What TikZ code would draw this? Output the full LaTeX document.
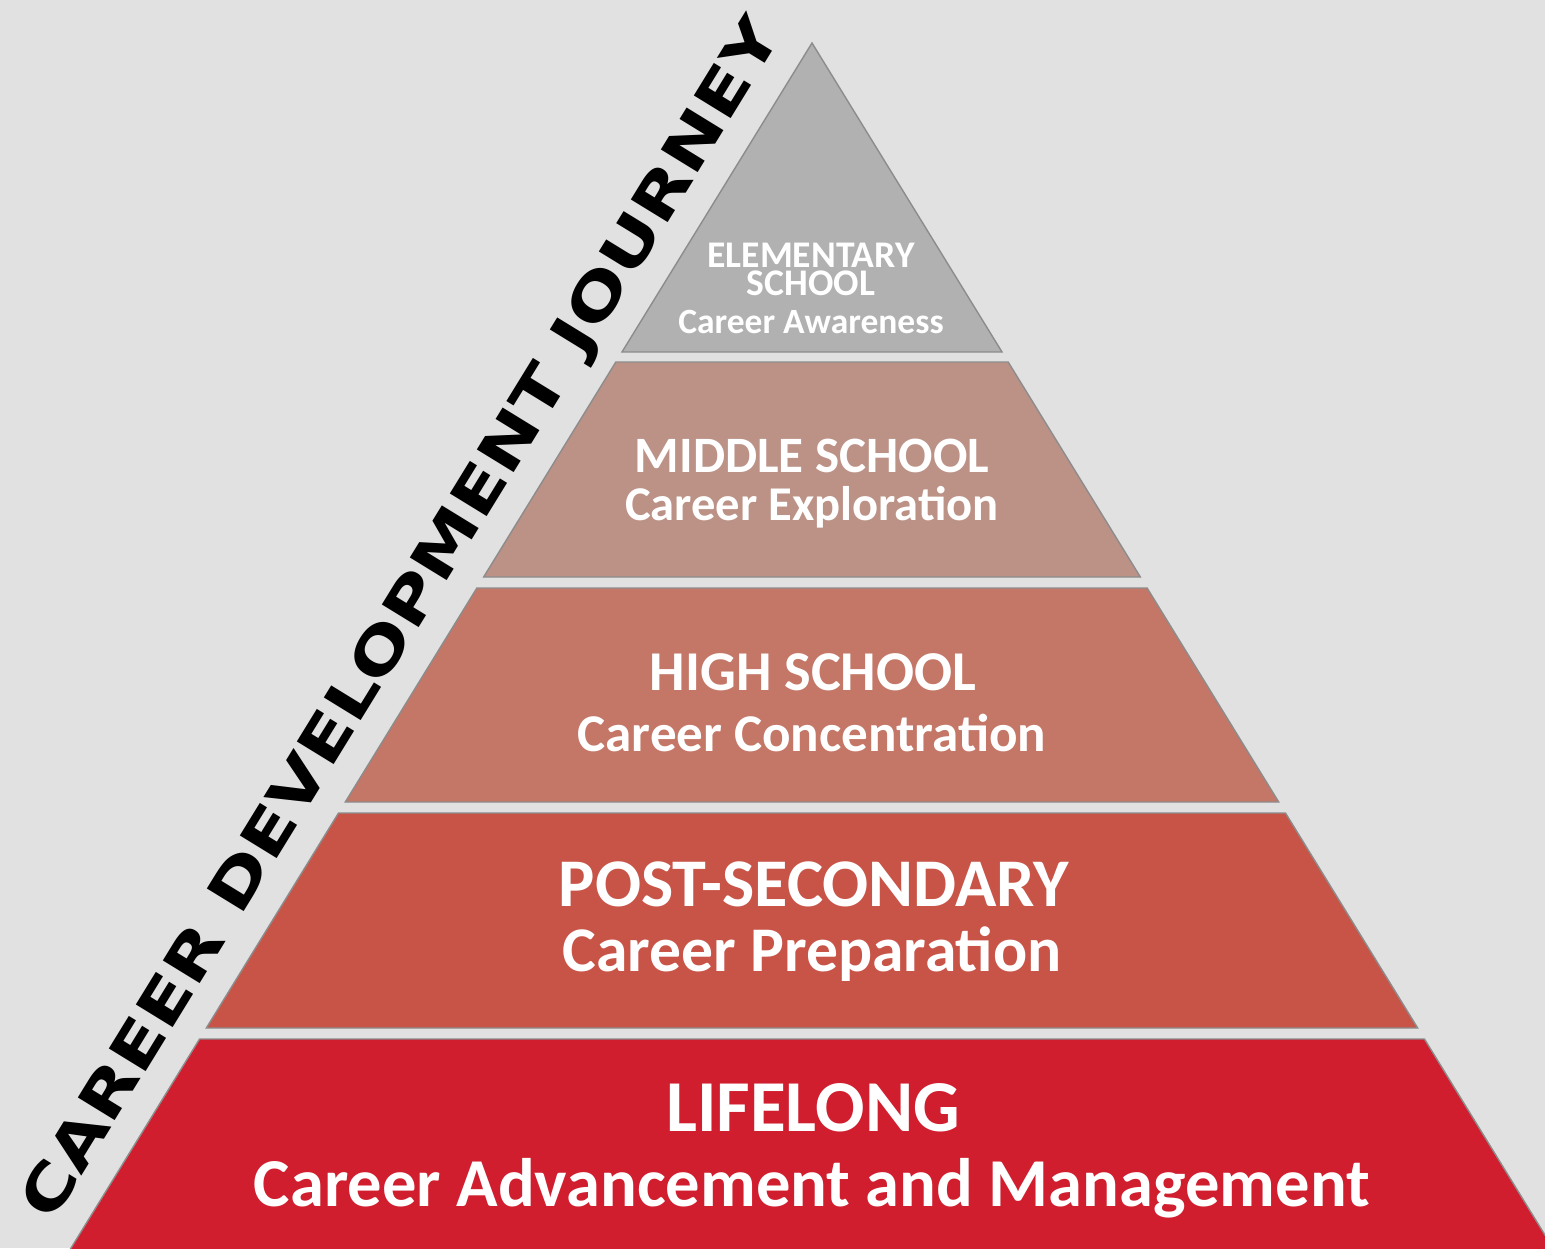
\documentclass[tikz,border=0pt]{standalone}
\usepackage{fontspec}
\setmainfont{Carlito}
\newfontfamily\titlefont{DejaVu Sans}
\definecolor{bg}{HTML}{E1E1E1}
\definecolor{elem}{HTML}{B0B1B0}
\definecolor{mid}{HTML}{BC9287}
\definecolor{high}{HTML}{C47667}
\definecolor{post}{HTML}{C85448}
\definecolor{life}{HTML}{D01E2E}
\newcommand{\fs}[1]{\bfseries\fontsize{#1}{#1}\selectfont}

\begin{document}
\begin{tikzpicture}[x=0.01cm,y=-0.01cm,
  band/.style={draw=black!45,line width=0.4pt},
  lbl/.style={text=white,anchor=base,inner sep=0pt}]
\fill[bg] (0,0) rectangle (1545,1248);
\useasboundingbox (0,0) rectangle (1545,1248);
\clip (0,0) rectangle (1545,1248);

% pyramid bands, apex at (812,43)
\foreach \ya/\yb/\c in {43/352/elem,362/577/mid,588/802/high,813/1028/post,1039/1270/life}
  \filldraw[band,fill=\c] ({812-0.6149*(\ya-43)},\ya) -- ({812+0.6149*(\ya-43)},\ya)
    -- ({812+0.6149*(\yb-43)},\yb) -- ({812-0.6149*(\yb-43)},\yb) -- cycle;

% labels
\node[lbl,font=\fs{10.7}] (elemA) at (811,267) {ELEMENTARY};
\node[lbl,font=\fs{10.7}] (elemB) at (811,295) {SCHOOL};
\node[lbl,font=\fs{10.1}] (elemC) at (811,333) {Career Awareness};
\node[lbl,font=\fs{14.5}] (midA) at (812,472) {MIDDLE SCHOOL};
\node[lbl,font=\fs{13.8}] (midB) at (812,520) {Career Exploration};
\node[lbl,font=\fs{16}] (highA) at (813,690) {HIGH SCHOOL};
\node[lbl,font=\fs{15.1}] (highB) at (812,751) {Career Concentration};
\node[lbl,font=\fs{19.4}] (postA) at (814,906) {POST-SECONDARY};
\node[lbl,font=\fs{18.1}] (postB) at (812,971) {Career Preparation};
\node[lbl,font=\fs{20.8}] (lifeA) at (813,1131) {LIFELONG};
\node[lbl,font=\fs{19.5}] (lifeB) at (812,1206) {Career Advancement and Management};

% title along the left edge
\node[rotate=58.42,anchor=base west,inner sep=0pt] (title) at (52,1224)
  {\resizebox{13.95cm}{0.44cm}{\titlefont\bfseries CAREER DEVELOPMENT JOURNEY}};
\end{tikzpicture}
\end{document}
